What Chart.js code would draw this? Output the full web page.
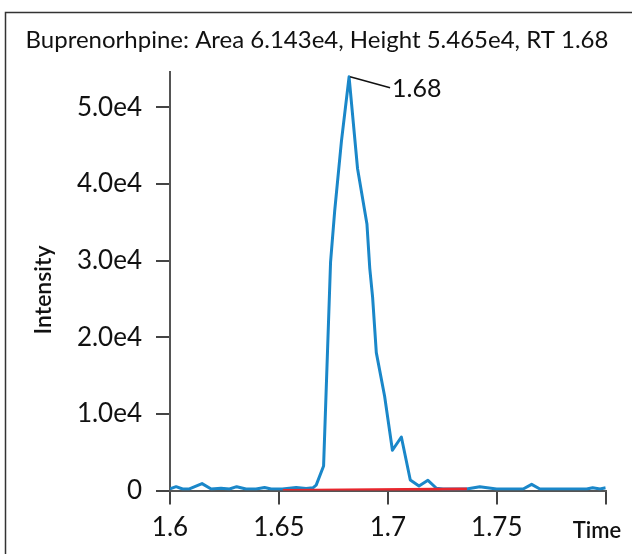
<!DOCTYPE html>
<html><head><meta charset="utf-8">
<script src="https://cdn.jsdelivr.net/npm/chart.js@4/dist/chart.umd.min.js"></script>
<style>html,body{margin:0;padding:0;background:#fff;} canvas{display:block}</style>
</head><body>
<canvas id="c" width="632" height="554"></canvas>
<script>
const titleText = "Buprenorhpine: Area 6.143e4, Height 5.465e4, RT 1.68";
const xAxisTitle = "Time";
const yAxisTitle = "Intensity";
const peakLabel = "1.68";

const times = [1.6000,1.6028,1.6058,1.6089,1.6147,1.6189,1.6234,1.6273,1.6306,1.6349,1.6395,1.6434,1.6464,1.6516,1.6579,1.6625,1.6656,1.6671,1.6705,1.6737,1.6756,1.6787,1.6822,1.6861,1.6904,1.6917,1.6930,1.6947,1.6985,1.7021,1.7062,1.7103,1.7143,1.7184,1.7223,1.7253,1.7361,1.7422,1.7499,1.7621,1.7660,1.7698,1.7913,1.7940,1.7974,1.8000];
const intensities = [200,500,200,200,900,200,300,200,500,200,200,400,200,200,400,250,350,700,3200,29800,36500,45600,54000,42000,34800,29000,25250,18000,12330,5250,6980,1370,590,1330,290,200,200,500,200,200,800,200,200,370,200,370];

const baselineTimes = [1.6518, 1.7363];
const baselineValues = [0, 180];

const xTickValues = [1.6, 1.65, 1.7, 1.75, 1.8];
const xTickLabels = ["1.6", "1.65", "1.7", "1.75", ""];
const yTickValues = [0, 10000, 20000, 30000, 40000, 50000];
const yTickLabels = ["0", "1.0e4", "2.0e4", "3.0e4", "4.0e4", "5.0e4"];
const xRange = [1.6, 1.8];
const yRange = [0, 54670];

const FONT = "Lato";

const decor = {
  id: 'decor',
  afterDraw(chart) {
    const ctx = chart.ctx;
    ctx.save();
    // frame
    ctx.strokeStyle = '#333';
    ctx.lineWidth = 1.5;
    ctx.strokeRect(5.5, 12.5, 700, 700);
    // title
    ctx.fillStyle = '#111';
    ctx.font = '24px ' + FONT;
    ctx.textAlign = 'center';
    ctx.textBaseline = 'middle';
    ctx.fillText(titleText, 317, 40);
    // y title
    ctx.save();
    ctx.translate(44, 290);
    ctx.rotate(-Math.PI / 2);
    ctx.font = '600 23px ' + FONT;
    ctx.fillText(yAxisTitle, 0, 0);
    ctx.restore();
    // x title
    ctx.font = '600 22px ' + FONT;
    ctx.fillText(xAxisTitle, 597, 531);
    // peak annotation
    let mi = 0;
    intensities.forEach((v, i) => { if (v > intensities[mi]) mi = i; });
    const px = chart.scales.x.getPixelForValue(times[mi]);
    const py = chart.scales.y.getPixelForValue(intensities[mi]);
    ctx.strokeStyle = '#111';
    ctx.lineWidth = 1.5;
    ctx.beginPath();
    ctx.moveTo(px + 1, py);
    ctx.lineTo(px + 41, py + 11);
    ctx.stroke();
    ctx.font = '25px ' + FONT;
    ctx.textAlign = 'left';
    ctx.fillText(peakLabel, px + 43, py + 12);
    ctx.restore();
  }
};

new Chart(document.getElementById('c'), {
  type: 'line',
  data: {
    datasets: [
      {
        data: baselineTimes.map((t, i) => ({x: t, y: baselineValues[i]})),
        borderColor: '#e8262d', borderWidth: 3, pointRadius: 0, order: 0
      },
      {
        data: times.map((t, i) => ({x: t, y: intensities[i]})),
        borderColor: '#1a87c9', borderWidth: 3, pointRadius: 0, tension: 0, order: 1,
        borderJoinStyle: 'round'
      }
    ]
  },
  options: {
    responsive: false,
    animation: false,
    layout: { padding: { left: 0, top: 71.7, right: 26.3, bottom: 0 } },
    plugins: { legend: { display: false }, tooltip: { enabled: false }, title: { display: false } },
    scales: {
      x: {
        type: 'linear', min: xRange[0], max: xRange[1],
        afterBuildTicks: s => { s.ticks = xTickValues.map(v => ({value: v})); },
        afterFit: s => { s.height = 63.5; },
        ticks: {
          callback: (v, i) => xTickLabels[i],
          font: { family: FONT, size: 26 }, color: '#111', padding: 8,
          maxRotation: 0, autoSkip: false
        },
        grid: { drawOnChartArea: false, drawTicks: true, tickLength: 14, color: '#444', lineWidth: 2 },
        border: { color: '#555', width: 2 }
      },
      y: {
        min: yRange[0], max: yRange[1],
        afterBuildTicks: s => { s.ticks = yTickValues.map(v => ({value: v})); },
        afterFit: s => { s.width = 170; },
        ticks: {
          callback: (v, i) => yTickLabels[i],
          font: { family: FONT, size: 26 }, color: '#111', padding: 14
        },
        grid: { drawOnChartArea: false, drawTicks: true, tickLength: 14, color: '#444', lineWidth: 2 },
        border: { color: '#555', width: 2 }
      }
    }
  },
  plugins: [decor]
});
</script>
</body></html>
